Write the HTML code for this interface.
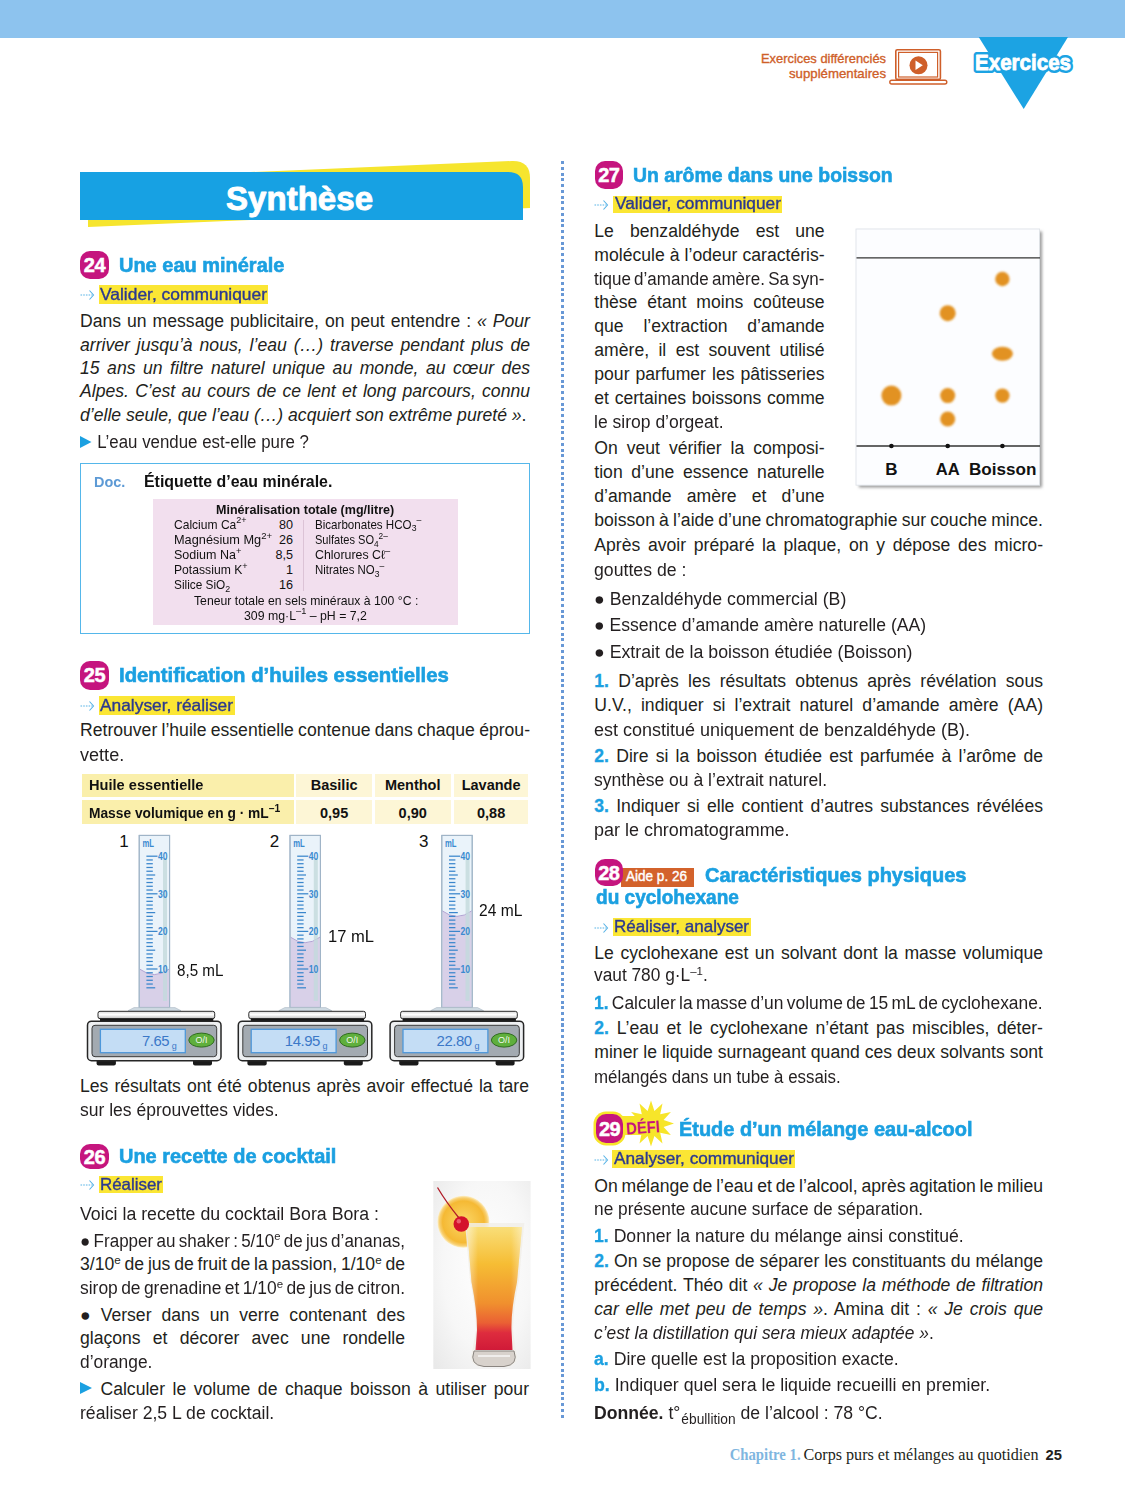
<!DOCTYPE html>
<html><head><meta charset="utf-8"><style>
html,body{margin:0;padding:0;background:#fff}
body{width:1125px;height:1500px;position:relative;overflow:hidden;font-family:"Liberation Sans",sans-serif}
.badge{position:absolute;background:#c5157e;border-radius:10px;color:#fff;font-weight:bold;font-size:20px;display:flex;align-items:center;justify-content:center;letter-spacing:-0.5px}
.badge span{position:relative;top:0.5px;-webkit-text-stroke:0.5px #fff}
.hl{position:absolute;background:#fbe634}
.arr{position:absolute}
svg{position:absolute}

.ln{position:absolute;white-space:pre;transform-origin:0 0;}
.ln i{font-style:italic}
.k-body{font-size:17.6px;line-height:17.6px;color:#231f20}
.k-head{font-size:20px;line-height:20px;font-weight:bold;color:#1ba0e1;-webkit-text-stroke:0.6px #1ba0e1}
.k-skill{font-size:16.5px;line-height:16.5px;color:#2b3990;-webkit-text-stroke:0.35px #2b3990}
.k-doc{font-size:15.5px;line-height:15.5px;font-weight:bold;color:#5d9ad5}
.k-doct{font-size:16.5px;line-height:16.5px;font-weight:bold;color:#111}
.k-tblb{font-size:12.6px;line-height:12.6px;font-weight:bold;color:#111}
.k-tbl{font-size:12.6px;line-height:12.6px;color:#111}
.k-th{font-size:14.5px;line-height:14.5px;font-weight:bold;color:#111}
.k-lab{font-size:17px;line-height:17px;color:#111}
.num{color:#1ba0e1;font-weight:bold;-webkit-text-stroke:0.3px #1ba0e1}
.sup{font-size:0.66em;position:relative;top:-0.55em}
.k-tbl .sup,.k-th .sup{font-size:0.75em}
.k-tbl .sub{font-size:0.75em}
.sub{font-size:0.62em;position:relative;top:0.3em}
.bl{display:inline-block;width:0;height:0;border-left:12.5px solid #1ba0e1;border-top:6px solid transparent;border-bottom:6px solid transparent;position:relative;top:-0.3px;margin-right:1px}
.dot{font-size:1em}
.sub2{font-size:0.78em;position:relative;top:0.38em;margin-left:1px}
.bm{display:inline-block;width:0;height:0}
</style></head><body>
<div style="position:absolute;left:0.0px;top:0.0px;width:1125.0px;height:37.6px;background:#8dc3ee"></div>
<svg style="left:0;top:0" width="1125" height="130" viewBox="0 0 1125 130">
<polygon points="978.7,37 1068,37 1023.7,109" fill="#1ca3e3"/>
<text x="1023" y="69.8" text-anchor="middle" font-size="22" font-weight="bold" fill="#1ca3e3" stroke="#1ca3e3" stroke-width="6" stroke-linejoin="round" textLength="96" lengthAdjust="spacingAndGlyphs">Exercices</text><text x="1023" y="69.8" text-anchor="middle" font-size="22" font-weight="bold" fill="#fff" stroke="#fff" stroke-width="0.8" stroke-linejoin="round" textLength="96" lengthAdjust="spacingAndGlyphs">Exercices</text>
<text x="886" y="62.8" text-anchor="end" font-size="13" fill="#cf5f2a" stroke="#cf5f2a" stroke-width="0.35" textLength="125" lengthAdjust="spacingAndGlyphs">Exercices différenciés</text>
<text x="886" y="77.8" text-anchor="end" font-size="13" fill="#cf5f2a" stroke="#cf5f2a" stroke-width="0.35" textLength="97" lengthAdjust="spacingAndGlyphs">supplémentaires</text>
<rect x="895.8" y="49.8" width="44.6" height="29.6" rx="1.5" fill="none" stroke="#cf5f2a" stroke-width="1.6"/>
<rect x="898.6" y="52.4" width="39" height="24.6" fill="none" stroke="#cf5f2a" stroke-width="1.2"/>
<rect x="889.8" y="80.2" width="57" height="3.8" rx="1.9" fill="none" stroke="#cf5f2a" stroke-width="1.4"/>
<circle cx="918.5" cy="65.3" r="9" fill="#cf5f2a"/>
<path d="M915.5 60.5 L922.8 65.3 L915.5 70.1 Z" fill="#fff"/>
</svg>
<svg style="left:0;top:140" width="560" height="100" viewBox="0 140 560 100">
<path d="M88 179 L512 161 Q530 160.5 530 178 L530 208 L88 227 Z" fill="#f6e52e"/>
<path d="M80 172 L508 172 Q523 172 523 187 L523 220 L80 220 Z" fill="#17a1e3"/>
<text x="299.5" y="209.6" text-anchor="middle" font-size="33" font-weight="bold" fill="#fff" stroke="#fff" stroke-width="0.9" stroke-linejoin="round" textLength="147" lengthAdjust="spacing">Synthèse</text>
</svg>
<div style="position:absolute;left:561.2px;top:161.0px;width:3.0px;height:1259.0px;background:repeating-linear-gradient(to bottom,#6898d6 0,#6898d6 3px,transparent 3px,transparent 5.75px)"></div>
<div class="badge" style="left:80.2px;top:251.0px;width:28.6px;height:27.8px;"><span>24</span></div>
<div class="badge" style="left:80.2px;top:661.0px;width:28.6px;height:28.8px;"><span>25</span></div>
<div class="badge" style="left:80.2px;top:1144.4px;width:28.6px;height:24.8px;"><span>26</span></div>
<div class="badge" style="left:594.7px;top:160.6px;width:28.3px;height:28.1px;"><span>27</span></div>
<svg class="arr" style="left:80.0px;top:288.5px" width="15" height="12" viewBox="0 0 15 12"><path d="M0.5 6 H12.5" stroke="#58b3e6" stroke-width="1.1" stroke-dasharray="1.6 1.1"/><path d="M9.5 1.5 L13.5 6 L9.5 10.5" fill="none" stroke="#58b3e6" stroke-width="1.1"/></svg>
<div class="hl" style="left:98.6px;top:285.0px;width:169.7px;height:18.6px"></div>
<svg class="arr" style="left:80.0px;top:699.5px" width="15" height="12" viewBox="0 0 15 12"><path d="M0.5 6 H12.5" stroke="#58b3e6" stroke-width="1.1" stroke-dasharray="1.6 1.1"/><path d="M9.5 1.5 L13.5 6 L9.5 10.5" fill="none" stroke="#58b3e6" stroke-width="1.1"/></svg>
<div class="hl" style="left:98.6px;top:696.0px;width:136.0px;height:18.7px"></div>
<svg class="arr" style="left:80.0px;top:1179.0px" width="15" height="12" viewBox="0 0 15 12"><path d="M0.5 6 H12.5" stroke="#58b3e6" stroke-width="1.1" stroke-dasharray="1.6 1.1"/><path d="M9.5 1.5 L13.5 6 L9.5 10.5" fill="none" stroke="#58b3e6" stroke-width="1.1"/></svg>
<div class="hl" style="left:99.0px;top:1176.4px;width:64.0px;height:16.9px"></div>
<svg class="arr" style="left:594.3px;top:199.3px" width="15" height="12" viewBox="0 0 15 12"><path d="M0.5 6 H12.5" stroke="#58b3e6" stroke-width="1.1" stroke-dasharray="1.6 1.1"/><path d="M9.5 1.5 L13.5 6 L9.5 10.5" fill="none" stroke="#58b3e6" stroke-width="1.1"/></svg>
<div class="hl" style="left:613.0px;top:195.8px;width:169.0px;height:17.6px"></div>
<svg class="arr" style="left:594.3px;top:921.6px" width="15" height="12" viewBox="0 0 15 12"><path d="M0.5 6 H12.5" stroke="#58b3e6" stroke-width="1.1" stroke-dasharray="1.6 1.1"/><path d="M9.5 1.5 L13.5 6 L9.5 10.5" fill="none" stroke="#58b3e6" stroke-width="1.1"/></svg>
<div class="hl" style="left:613.2px;top:918.3px;width:137.4px;height:17.7px"></div>
<svg class="arr" style="left:594.3px;top:1153.8px" width="15" height="12" viewBox="0 0 15 12"><path d="M0.5 6 H12.5" stroke="#58b3e6" stroke-width="1.1" stroke-dasharray="1.6 1.1"/><path d="M9.5 1.5 L13.5 6 L9.5 10.5" fill="none" stroke="#58b3e6" stroke-width="1.1"/></svg>
<div class="hl" style="left:612.0px;top:1150.3px;width:183.4px;height:18.0px"></div>
<div style="position:absolute;left:80.2px;top:462.8px;width:449.8px;height:171.7px;box-sizing:border-box;border:1.6px solid #55b7ea"></div>
<div style="position:absolute;left:152.8px;top:499.0px;width:305.2px;height:125.7px;background:#f2dfee"></div>
<div style="position:absolute;left:302.5px;top:520.0px;width:1.5px;height:71.0px;background:#dcc3d6"></div>
<div style="position:absolute;left:82.3px;top:773.8px;width:211.6px;height:23.4px;background:#faefab"></div>
<div style="position:absolute;left:82.3px;top:800.3px;width:211.6px;height:23.7px;background:#faefab"></div>
<div style="position:absolute;left:296.2px;top:773.8px;width:75.8px;height:23.4px;background:#fdf6d6"></div>
<div style="position:absolute;left:296.2px;top:800.3px;width:75.8px;height:23.7px;background:#fdf6d6"></div>
<div style="position:absolute;left:374.8px;top:773.8px;width:75.8px;height:23.4px;background:#fdf6d6"></div>
<div style="position:absolute;left:374.8px;top:800.3px;width:75.8px;height:23.7px;background:#fdf6d6"></div>
<div style="position:absolute;left:453.8px;top:773.8px;width:74.6px;height:23.4px;background:#fdf6d6"></div>
<div style="position:absolute;left:453.8px;top:800.3px;width:74.6px;height:23.7px;background:#fdf6d6"></div>
<svg style="position:absolute;left:0;top:0" width="1125" height="1500" viewBox="0 0 1125 1500">
<defs><linearGradient id="plate" x1="0" y1="0" x2="0" y2="1"><stop offset="0" stop-color="#d8d8d8"/><stop offset="0.45" stop-color="#ffffff"/><stop offset="1" stop-color="#bdbdbd"/></linearGradient></defs>
<rect x="139.2" y="835.4" width="30.4" height="172" fill="#eaf3fa" stroke="#9fb4c7" stroke-width="1"/>
<path d="M139.7 969.1 Q154.4 980.1 169.1 969.1 L169.1 1007 L139.7 1007 Z" fill="#d8d0e8"/>
<path d="M139.7 969.1 Q154.4 980.1 169.1 969.1" fill="none" stroke="#b3a3d3" stroke-width="1"/>
<rect x="163.0" y="858" width="4" height="143" fill="#c3d9dc" opacity="0.8"/>
<line x1="146.4" y1="987.80" x2="155.2" y2="987.80" stroke="#3a86cc" stroke-width="1.25"/>
<line x1="146.4" y1="984.04" x2="152.8" y2="984.04" stroke="#3a86cc" stroke-width="1.25"/>
<line x1="146.4" y1="980.28" x2="152.8" y2="980.28" stroke="#3a86cc" stroke-width="1.25"/>
<line x1="146.4" y1="976.52" x2="152.8" y2="976.52" stroke="#3a86cc" stroke-width="1.25"/>
<line x1="146.4" y1="972.76" x2="152.8" y2="972.76" stroke="#3a86cc" stroke-width="1.25"/>
<line x1="146.4" y1="969.00" x2="157.5" y2="969.00" stroke="#3a86cc" stroke-width="1.25"/>
<text x="158.0" y="972.80" font-size="10.5" font-weight="bold" fill="#3a8ad0" textLength="9.5" lengthAdjust="spacingAndGlyphs">10</text>
<line x1="146.4" y1="965.24" x2="152.8" y2="965.24" stroke="#3a86cc" stroke-width="1.25"/>
<line x1="146.4" y1="961.48" x2="152.8" y2="961.48" stroke="#3a86cc" stroke-width="1.25"/>
<line x1="146.4" y1="957.72" x2="152.8" y2="957.72" stroke="#3a86cc" stroke-width="1.25"/>
<line x1="146.4" y1="953.96" x2="152.8" y2="953.96" stroke="#3a86cc" stroke-width="1.25"/>
<line x1="146.4" y1="950.20" x2="155.2" y2="950.20" stroke="#3a86cc" stroke-width="1.25"/>
<line x1="146.4" y1="946.44" x2="152.8" y2="946.44" stroke="#3a86cc" stroke-width="1.25"/>
<line x1="146.4" y1="942.68" x2="152.8" y2="942.68" stroke="#3a86cc" stroke-width="1.25"/>
<line x1="146.4" y1="938.92" x2="152.8" y2="938.92" stroke="#3a86cc" stroke-width="1.25"/>
<line x1="146.4" y1="935.16" x2="152.8" y2="935.16" stroke="#3a86cc" stroke-width="1.25"/>
<line x1="146.4" y1="931.40" x2="157.5" y2="931.40" stroke="#3a86cc" stroke-width="1.25"/>
<text x="158.0" y="935.20" font-size="10.5" font-weight="bold" fill="#3a8ad0" textLength="9.5" lengthAdjust="spacingAndGlyphs">20</text>
<line x1="146.4" y1="927.64" x2="152.8" y2="927.64" stroke="#3a86cc" stroke-width="1.25"/>
<line x1="146.4" y1="923.88" x2="152.8" y2="923.88" stroke="#3a86cc" stroke-width="1.25"/>
<line x1="146.4" y1="920.12" x2="152.8" y2="920.12" stroke="#3a86cc" stroke-width="1.25"/>
<line x1="146.4" y1="916.36" x2="152.8" y2="916.36" stroke="#3a86cc" stroke-width="1.25"/>
<line x1="146.4" y1="912.60" x2="155.2" y2="912.60" stroke="#3a86cc" stroke-width="1.25"/>
<line x1="146.4" y1="908.84" x2="152.8" y2="908.84" stroke="#3a86cc" stroke-width="1.25"/>
<line x1="146.4" y1="905.08" x2="152.8" y2="905.08" stroke="#3a86cc" stroke-width="1.25"/>
<line x1="146.4" y1="901.32" x2="152.8" y2="901.32" stroke="#3a86cc" stroke-width="1.25"/>
<line x1="146.4" y1="897.56" x2="152.8" y2="897.56" stroke="#3a86cc" stroke-width="1.25"/>
<line x1="146.4" y1="893.80" x2="157.5" y2="893.80" stroke="#3a86cc" stroke-width="1.25"/>
<text x="158.0" y="897.60" font-size="10.5" font-weight="bold" fill="#3a8ad0" textLength="9.5" lengthAdjust="spacingAndGlyphs">30</text>
<line x1="146.4" y1="890.04" x2="152.8" y2="890.04" stroke="#3a86cc" stroke-width="1.25"/>
<line x1="146.4" y1="886.28" x2="152.8" y2="886.28" stroke="#3a86cc" stroke-width="1.25"/>
<line x1="146.4" y1="882.52" x2="152.8" y2="882.52" stroke="#3a86cc" stroke-width="1.25"/>
<line x1="146.4" y1="878.76" x2="152.8" y2="878.76" stroke="#3a86cc" stroke-width="1.25"/>
<line x1="146.4" y1="875.00" x2="155.2" y2="875.00" stroke="#3a86cc" stroke-width="1.25"/>
<line x1="146.4" y1="871.24" x2="152.8" y2="871.24" stroke="#3a86cc" stroke-width="1.25"/>
<line x1="146.4" y1="867.48" x2="152.8" y2="867.48" stroke="#3a86cc" stroke-width="1.25"/>
<line x1="146.4" y1="863.72" x2="152.8" y2="863.72" stroke="#3a86cc" stroke-width="1.25"/>
<line x1="146.4" y1="859.96" x2="152.8" y2="859.96" stroke="#3a86cc" stroke-width="1.25"/>
<line x1="146.4" y1="856.20" x2="157.5" y2="856.20" stroke="#3a86cc" stroke-width="1.25"/>
<text x="158.0" y="860.00" font-size="10.5" font-weight="bold" fill="#3a8ad0" textLength="9.5" lengthAdjust="spacingAndGlyphs">40</text>
<text x="142.4" y="847" font-size="10.5" font-weight="bold" fill="#3a8ad0" textLength="11.5" lengthAdjust="spacingAndGlyphs">mL</text>
<rect x="139.2" y="835.4" width="30.4" height="172" fill="none" stroke="#9fb4c7" stroke-width="1"/>
<path d="M128.0 1010.7 L134.0 1007.6 L175.0 1007.6 L181.0 1010.7 Z" fill="#cfdae2" stroke="#a9b7c2" stroke-width="0.6"/>
<rect x="98.0" y="1011.3" width="116.7" height="7.4" rx="2" fill="url(#plate)" stroke="#2a2a2a" stroke-width="1"/>
<rect x="100.0" y="1018.5" width="113.3" height="3" fill="#151515"/>
<rect x="96.6" y="1059" width="19.3" height="6.5" rx="2" fill="#1a1a1a"/>
<rect x="193.0" y="1059" width="19" height="6.5" rx="2" fill="#1a1a1a"/>
<rect x="87.5" y="1021.2" width="133.5" height="39.5" rx="4" fill="#eef0f2" stroke="#262626" stroke-width="1.5"/>
<rect x="92.0" y="1025.3" width="124.7" height="31.4" rx="3" fill="#a3aab1" stroke="#3a3a3a" stroke-width="1"/>
<rect x="100.4" y="1029.3" width="84.9" height="23.4" fill="#c4ddf5" stroke="#4d97da" stroke-width="1.3"/>
<text x="169.0" y="1045.8" font-size="15.5" fill="#3b78c8" text-anchor="end" textLength="27" lengthAdjust="spacingAndGlyphs" style="letter-spacing:-0.5px">7.65</text>
<text x="171.8" y="1048.5" font-size="9" fill="#3b78c8">g</text>
<ellipse cx="201.5" cy="1040.1" rx="12.7" ry="7" fill="#5faf3c" stroke="#2f6b1f" stroke-width="1"/>
<text x="201.5" y="1043.2" font-size="8.5" fill="#f2f8ee" text-anchor="middle" textLength="12" lengthAdjust="spacingAndGlyphs">O/I</text>
<rect x="290.0" y="835.4" width="30.4" height="172" fill="#eaf3fa" stroke="#9fb4c7" stroke-width="1"/>
<path d="M290.5 937.2 Q305.2 948.2 319.9 937.2 L319.9 1007 L290.5 1007 Z" fill="#d8d0e8"/>
<path d="M290.5 937.2 Q305.2 948.2 319.9 937.2" fill="none" stroke="#b3a3d3" stroke-width="1"/>
<rect x="313.8" y="858" width="4" height="143" fill="#c3d9dc" opacity="0.8"/>
<line x1="297.2" y1="987.80" x2="306.0" y2="987.80" stroke="#3a86cc" stroke-width="1.25"/>
<line x1="297.2" y1="984.04" x2="303.6" y2="984.04" stroke="#3a86cc" stroke-width="1.25"/>
<line x1="297.2" y1="980.28" x2="303.6" y2="980.28" stroke="#3a86cc" stroke-width="1.25"/>
<line x1="297.2" y1="976.52" x2="303.6" y2="976.52" stroke="#3a86cc" stroke-width="1.25"/>
<line x1="297.2" y1="972.76" x2="303.6" y2="972.76" stroke="#3a86cc" stroke-width="1.25"/>
<line x1="297.2" y1="969.00" x2="308.3" y2="969.00" stroke="#3a86cc" stroke-width="1.25"/>
<text x="308.8" y="972.80" font-size="10.5" font-weight="bold" fill="#3a8ad0" textLength="9.5" lengthAdjust="spacingAndGlyphs">10</text>
<line x1="297.2" y1="965.24" x2="303.6" y2="965.24" stroke="#3a86cc" stroke-width="1.25"/>
<line x1="297.2" y1="961.48" x2="303.6" y2="961.48" stroke="#3a86cc" stroke-width="1.25"/>
<line x1="297.2" y1="957.72" x2="303.6" y2="957.72" stroke="#3a86cc" stroke-width="1.25"/>
<line x1="297.2" y1="953.96" x2="303.6" y2="953.96" stroke="#3a86cc" stroke-width="1.25"/>
<line x1="297.2" y1="950.20" x2="306.0" y2="950.20" stroke="#3a86cc" stroke-width="1.25"/>
<line x1="297.2" y1="946.44" x2="303.6" y2="946.44" stroke="#3a86cc" stroke-width="1.25"/>
<line x1="297.2" y1="942.68" x2="303.6" y2="942.68" stroke="#3a86cc" stroke-width="1.25"/>
<line x1="297.2" y1="938.92" x2="303.6" y2="938.92" stroke="#3a86cc" stroke-width="1.25"/>
<line x1="297.2" y1="935.16" x2="303.6" y2="935.16" stroke="#3a86cc" stroke-width="1.25"/>
<line x1="297.2" y1="931.40" x2="308.3" y2="931.40" stroke="#3a86cc" stroke-width="1.25"/>
<text x="308.8" y="935.20" font-size="10.5" font-weight="bold" fill="#3a8ad0" textLength="9.5" lengthAdjust="spacingAndGlyphs">20</text>
<line x1="297.2" y1="927.64" x2="303.6" y2="927.64" stroke="#3a86cc" stroke-width="1.25"/>
<line x1="297.2" y1="923.88" x2="303.6" y2="923.88" stroke="#3a86cc" stroke-width="1.25"/>
<line x1="297.2" y1="920.12" x2="303.6" y2="920.12" stroke="#3a86cc" stroke-width="1.25"/>
<line x1="297.2" y1="916.36" x2="303.6" y2="916.36" stroke="#3a86cc" stroke-width="1.25"/>
<line x1="297.2" y1="912.60" x2="306.0" y2="912.60" stroke="#3a86cc" stroke-width="1.25"/>
<line x1="297.2" y1="908.84" x2="303.6" y2="908.84" stroke="#3a86cc" stroke-width="1.25"/>
<line x1="297.2" y1="905.08" x2="303.6" y2="905.08" stroke="#3a86cc" stroke-width="1.25"/>
<line x1="297.2" y1="901.32" x2="303.6" y2="901.32" stroke="#3a86cc" stroke-width="1.25"/>
<line x1="297.2" y1="897.56" x2="303.6" y2="897.56" stroke="#3a86cc" stroke-width="1.25"/>
<line x1="297.2" y1="893.80" x2="308.3" y2="893.80" stroke="#3a86cc" stroke-width="1.25"/>
<text x="308.8" y="897.60" font-size="10.5" font-weight="bold" fill="#3a8ad0" textLength="9.5" lengthAdjust="spacingAndGlyphs">30</text>
<line x1="297.2" y1="890.04" x2="303.6" y2="890.04" stroke="#3a86cc" stroke-width="1.25"/>
<line x1="297.2" y1="886.28" x2="303.6" y2="886.28" stroke="#3a86cc" stroke-width="1.25"/>
<line x1="297.2" y1="882.52" x2="303.6" y2="882.52" stroke="#3a86cc" stroke-width="1.25"/>
<line x1="297.2" y1="878.76" x2="303.6" y2="878.76" stroke="#3a86cc" stroke-width="1.25"/>
<line x1="297.2" y1="875.00" x2="306.0" y2="875.00" stroke="#3a86cc" stroke-width="1.25"/>
<line x1="297.2" y1="871.24" x2="303.6" y2="871.24" stroke="#3a86cc" stroke-width="1.25"/>
<line x1="297.2" y1="867.48" x2="303.6" y2="867.48" stroke="#3a86cc" stroke-width="1.25"/>
<line x1="297.2" y1="863.72" x2="303.6" y2="863.72" stroke="#3a86cc" stroke-width="1.25"/>
<line x1="297.2" y1="859.96" x2="303.6" y2="859.96" stroke="#3a86cc" stroke-width="1.25"/>
<line x1="297.2" y1="856.20" x2="308.3" y2="856.20" stroke="#3a86cc" stroke-width="1.25"/>
<text x="308.8" y="860.00" font-size="10.5" font-weight="bold" fill="#3a8ad0" textLength="9.5" lengthAdjust="spacingAndGlyphs">40</text>
<text x="293.2" y="847" font-size="10.5" font-weight="bold" fill="#3a8ad0" textLength="11.5" lengthAdjust="spacingAndGlyphs">mL</text>
<rect x="290.0" y="835.4" width="30.4" height="172" fill="none" stroke="#9fb4c7" stroke-width="1"/>
<path d="M278.8 1010.7 L284.8 1007.6 L325.8 1007.6 L331.8 1010.7 Z" fill="#cfdae2" stroke="#a9b7c2" stroke-width="0.6"/>
<rect x="248.8" y="1011.3" width="116.7" height="7.4" rx="2" fill="url(#plate)" stroke="#2a2a2a" stroke-width="1"/>
<rect x="250.8" y="1018.5" width="113.3" height="3" fill="#151515"/>
<rect x="247.4" y="1059" width="19.3" height="6.5" rx="2" fill="#1a1a1a"/>
<rect x="343.8" y="1059" width="19" height="6.5" rx="2" fill="#1a1a1a"/>
<rect x="238.3" y="1021.2" width="133.5" height="39.5" rx="4" fill="#eef0f2" stroke="#262626" stroke-width="1.5"/>
<rect x="242.8" y="1025.3" width="124.7" height="31.4" rx="3" fill="#a3aab1" stroke="#3a3a3a" stroke-width="1"/>
<rect x="251.2" y="1029.3" width="84.9" height="23.4" fill="#c4ddf5" stroke="#4d97da" stroke-width="1.3"/>
<text x="319.8" y="1045.8" font-size="15.5" fill="#3b78c8" text-anchor="end" textLength="35" lengthAdjust="spacingAndGlyphs" style="letter-spacing:-0.5px">14.95</text>
<text x="322.6" y="1048.5" font-size="9" fill="#3b78c8">g</text>
<ellipse cx="352.3" cy="1040.1" rx="12.7" ry="7" fill="#5faf3c" stroke="#2f6b1f" stroke-width="1"/>
<text x="352.3" y="1043.2" font-size="8.5" fill="#f2f8ee" text-anchor="middle" textLength="12" lengthAdjust="spacingAndGlyphs">O/I</text>
<rect x="441.8" y="835.4" width="30.4" height="172" fill="#eaf3fa" stroke="#9fb4c7" stroke-width="1"/>
<path d="M442.3 910.9 Q457.0 921.9 471.7 910.9 L471.7 1007 L442.3 1007 Z" fill="#d8d0e8"/>
<path d="M442.3 910.9 Q457.0 921.9 471.7 910.9" fill="none" stroke="#b3a3d3" stroke-width="1"/>
<rect x="465.6" y="858" width="4" height="143" fill="#c3d9dc" opacity="0.8"/>
<line x1="449.0" y1="987.80" x2="457.8" y2="987.80" stroke="#3a86cc" stroke-width="1.25"/>
<line x1="449.0" y1="984.04" x2="455.4" y2="984.04" stroke="#3a86cc" stroke-width="1.25"/>
<line x1="449.0" y1="980.28" x2="455.4" y2="980.28" stroke="#3a86cc" stroke-width="1.25"/>
<line x1="449.0" y1="976.52" x2="455.4" y2="976.52" stroke="#3a86cc" stroke-width="1.25"/>
<line x1="449.0" y1="972.76" x2="455.4" y2="972.76" stroke="#3a86cc" stroke-width="1.25"/>
<line x1="449.0" y1="969.00" x2="460.1" y2="969.00" stroke="#3a86cc" stroke-width="1.25"/>
<text x="460.6" y="972.80" font-size="10.5" font-weight="bold" fill="#3a8ad0" textLength="9.5" lengthAdjust="spacingAndGlyphs">10</text>
<line x1="449.0" y1="965.24" x2="455.4" y2="965.24" stroke="#3a86cc" stroke-width="1.25"/>
<line x1="449.0" y1="961.48" x2="455.4" y2="961.48" stroke="#3a86cc" stroke-width="1.25"/>
<line x1="449.0" y1="957.72" x2="455.4" y2="957.72" stroke="#3a86cc" stroke-width="1.25"/>
<line x1="449.0" y1="953.96" x2="455.4" y2="953.96" stroke="#3a86cc" stroke-width="1.25"/>
<line x1="449.0" y1="950.20" x2="457.8" y2="950.20" stroke="#3a86cc" stroke-width="1.25"/>
<line x1="449.0" y1="946.44" x2="455.4" y2="946.44" stroke="#3a86cc" stroke-width="1.25"/>
<line x1="449.0" y1="942.68" x2="455.4" y2="942.68" stroke="#3a86cc" stroke-width="1.25"/>
<line x1="449.0" y1="938.92" x2="455.4" y2="938.92" stroke="#3a86cc" stroke-width="1.25"/>
<line x1="449.0" y1="935.16" x2="455.4" y2="935.16" stroke="#3a86cc" stroke-width="1.25"/>
<line x1="449.0" y1="931.40" x2="460.1" y2="931.40" stroke="#3a86cc" stroke-width="1.25"/>
<text x="460.6" y="935.20" font-size="10.5" font-weight="bold" fill="#3a8ad0" textLength="9.5" lengthAdjust="spacingAndGlyphs">20</text>
<line x1="449.0" y1="927.64" x2="455.4" y2="927.64" stroke="#3a86cc" stroke-width="1.25"/>
<line x1="449.0" y1="923.88" x2="455.4" y2="923.88" stroke="#3a86cc" stroke-width="1.25"/>
<line x1="449.0" y1="920.12" x2="455.4" y2="920.12" stroke="#3a86cc" stroke-width="1.25"/>
<line x1="449.0" y1="916.36" x2="455.4" y2="916.36" stroke="#3a86cc" stroke-width="1.25"/>
<line x1="449.0" y1="912.60" x2="457.8" y2="912.60" stroke="#3a86cc" stroke-width="1.25"/>
<line x1="449.0" y1="908.84" x2="455.4" y2="908.84" stroke="#3a86cc" stroke-width="1.25"/>
<line x1="449.0" y1="905.08" x2="455.4" y2="905.08" stroke="#3a86cc" stroke-width="1.25"/>
<line x1="449.0" y1="901.32" x2="455.4" y2="901.32" stroke="#3a86cc" stroke-width="1.25"/>
<line x1="449.0" y1="897.56" x2="455.4" y2="897.56" stroke="#3a86cc" stroke-width="1.25"/>
<line x1="449.0" y1="893.80" x2="460.1" y2="893.80" stroke="#3a86cc" stroke-width="1.25"/>
<text x="460.6" y="897.60" font-size="10.5" font-weight="bold" fill="#3a8ad0" textLength="9.5" lengthAdjust="spacingAndGlyphs">30</text>
<line x1="449.0" y1="890.04" x2="455.4" y2="890.04" stroke="#3a86cc" stroke-width="1.25"/>
<line x1="449.0" y1="886.28" x2="455.4" y2="886.28" stroke="#3a86cc" stroke-width="1.25"/>
<line x1="449.0" y1="882.52" x2="455.4" y2="882.52" stroke="#3a86cc" stroke-width="1.25"/>
<line x1="449.0" y1="878.76" x2="455.4" y2="878.76" stroke="#3a86cc" stroke-width="1.25"/>
<line x1="449.0" y1="875.00" x2="457.8" y2="875.00" stroke="#3a86cc" stroke-width="1.25"/>
<line x1="449.0" y1="871.24" x2="455.4" y2="871.24" stroke="#3a86cc" stroke-width="1.25"/>
<line x1="449.0" y1="867.48" x2="455.4" y2="867.48" stroke="#3a86cc" stroke-width="1.25"/>
<line x1="449.0" y1="863.72" x2="455.4" y2="863.72" stroke="#3a86cc" stroke-width="1.25"/>
<line x1="449.0" y1="859.96" x2="455.4" y2="859.96" stroke="#3a86cc" stroke-width="1.25"/>
<line x1="449.0" y1="856.20" x2="460.1" y2="856.20" stroke="#3a86cc" stroke-width="1.25"/>
<text x="460.6" y="860.00" font-size="10.5" font-weight="bold" fill="#3a8ad0" textLength="9.5" lengthAdjust="spacingAndGlyphs">40</text>
<text x="445.0" y="847" font-size="10.5" font-weight="bold" fill="#3a8ad0" textLength="11.5" lengthAdjust="spacingAndGlyphs">mL</text>
<rect x="441.8" y="835.4" width="30.4" height="172" fill="none" stroke="#9fb4c7" stroke-width="1"/>
<path d="M430.6 1010.7 L436.6 1007.6 L477.6 1007.6 L483.6 1010.7 Z" fill="#cfdae2" stroke="#a9b7c2" stroke-width="0.6"/>
<rect x="400.6" y="1011.3" width="116.7" height="7.4" rx="2" fill="url(#plate)" stroke="#2a2a2a" stroke-width="1"/>
<rect x="402.6" y="1018.5" width="113.3" height="3" fill="#151515"/>
<rect x="399.2" y="1059" width="19.3" height="6.5" rx="2" fill="#1a1a1a"/>
<rect x="495.6" y="1059" width="19" height="6.5" rx="2" fill="#1a1a1a"/>
<rect x="390.1" y="1021.2" width="133.5" height="39.5" rx="4" fill="#eef0f2" stroke="#262626" stroke-width="1.5"/>
<rect x="394.6" y="1025.3" width="124.7" height="31.4" rx="3" fill="#a3aab1" stroke="#3a3a3a" stroke-width="1"/>
<rect x="403.0" y="1029.3" width="84.9" height="23.4" fill="#c4ddf5" stroke="#4d97da" stroke-width="1.3"/>
<text x="471.6" y="1045.8" font-size="15.5" fill="#3b78c8" text-anchor="end" textLength="35" lengthAdjust="spacingAndGlyphs" style="letter-spacing:-0.5px">22.80</text>
<text x="474.4" y="1048.5" font-size="9" fill="#3b78c8">g</text>
<ellipse cx="504.1" cy="1040.1" rx="12.7" ry="7" fill="#5faf3c" stroke="#2f6b1f" stroke-width="1"/>
<text x="504.1" y="1043.2" font-size="8.5" fill="#f2f8ee" text-anchor="middle" textLength="12" lengthAdjust="spacingAndGlyphs">O/I</text>
</svg>
<div style="position:absolute;left:621.3px;top:868.2px;width:72.9px;height:18.5px;background:#d3622b"></div>
<div class="badge" style="left:595.0px;top:858.8px;width:27.7px;height:27.5px;"><span>28</span></div>
<svg style="left:600;top:860" width="100" height="30" viewBox="600 860 100 30"><text x="626" y="881.3" font-size="14" fill="#fff" stroke="#fff" stroke-width="0.4" textLength="61" lengthAdjust="spacingAndGlyphs">Aide p. 26</text></svg>
<svg style="left:580;top:1090" width="110" height="70" viewBox="580 1090 110 70">
<polygon points="651.0,1100.5 654.4,1110.9 662.5,1103.6 660.2,1114.3 670.9,1112.0 663.6,1120.1 674.0,1123.5 663.6,1126.9 670.9,1135.0 660.2,1132.7 662.5,1143.4 654.4,1136.1 651.0,1146.5 647.6,1136.1 639.5,1143.4 641.8,1132.7 631.1,1135.0 638.4,1126.9 628.0,1123.5 638.4,1120.1 631.1,1112.0 641.8,1114.3 639.5,1103.6 647.6,1110.9" fill="#f7e52a"/>
<rect x="612" y="1116" width="38" height="19" fill="#f7e52a"/>
<text x="626" y="1133.4" font-size="17" font-weight="bold" fill="#c5157e" textLength="33.7" lengthAdjust="spacingAndGlyphs" transform="rotate(-4 643 1127)">DÉFI</text>
</svg>
<div class="badge" style="left:595.7px;top:1114.2px;width:27.7px;height:29.2px;box-shadow:0 0 0 2.5px #f7e52a;"><span>29</span></div>
<svg style="left:430;top:1178" width="104" height="194" viewBox="430 1178 104 194">
<defs>
<radialGradient id="bgph" cx="0.55" cy="0.45" r="0.75"><stop offset="0" stop-color="#ffffff"/><stop offset="0.6" stop-color="#f7f7f7"/><stop offset="1" stop-color="#e9e9e9"/></radialGradient>
<linearGradient id="juice" x1="0" y1="0" x2="0" y2="1"><stop offset="0" stop-color="#f9de78"/><stop offset="0.3" stop-color="#f6bd34"/><stop offset="0.62" stop-color="#f0902e"/><stop offset="0.78" stop-color="#ea6034"/><stop offset="0.86" stop-color="#de2c3e"/><stop offset="1" stop-color="#d01a38"/></linearGradient>
<radialGradient id="orange" cx="0.5" cy="0.5" r="0.5"><stop offset="0" stop-color="#fbd86a"/><stop offset="0.8" stop-color="#f5b934"/><stop offset="0.92" stop-color="#f8cf70"/><stop offset="1" stop-color="#fdf0c8"/></radialGradient>
<linearGradient id="gl" x1="0" y1="0" x2="1" y2="0"><stop offset="0" stop-color="#ffffff" stop-opacity="0.5"/><stop offset="0.2" stop-color="#ffffff" stop-opacity="0"/><stop offset="0.8" stop-color="#ffffff" stop-opacity="0"/><stop offset="1" stop-color="#ffffff" stop-opacity="0.4"/></linearGradient>
</defs>
<rect x="433.3" y="1181" width="97.3" height="188" fill="url(#bgph)"/>
<circle cx="463.4" cy="1221.8" r="26" fill="url(#orange)"/>
<path d="M437.5 1187.5 Q446 1202 459 1218" stroke="#b01c28" stroke-width="1.3" fill="none"/>
<path d="M465 1223 L524.3 1223 L519 1280 Q513 1310 513 1330 L516 1352 Q520 1366 505 1367 L482 1367 Q468 1366 472 1352 L476 1330 Q476 1310 470 1280 Z" fill="#f1eee9" opacity="0.85"/>
<path d="M467 1227 L522 1227 L517 1282 Q511 1310 511.5 1330 L512.5 1350 L475.5 1350 L477 1330 Q477 1310 471.5 1282 Z" fill="url(#juice)"/>
<path d="M467 1227 L522 1227 L517 1282 Q511 1310 511.5 1330 L512.5 1350 L475.5 1350 L477 1330 Q477 1310 471.5 1282 Z" fill="url(#gl)"/>
<path d="M474 1351 L514 1351 Q519 1365 504 1366.5 L484 1366.5 Q469 1365 474 1351 Z" fill="#d8d2cc" stroke="#8a8580" stroke-width="1"/>
<path d="M478 1356 L510 1356" stroke="#ffffff" stroke-width="1.5" opacity="0.8"/>
<circle cx="461.3" cy="1224" r="7.8" fill="#d4122b"/>
<circle cx="458.8" cy="1221.3" r="2.2" fill="#f07080" opacity="0.8"/>
</svg>
<svg style="left:850;top:222" width="200" height="272" viewBox="850 222 200 272">
<defs><filter id="blur" x="-50%" y="-50%" width="200%" height="200%"><feGaussianBlur stdDeviation="1.1"/></filter>
<filter id="sh" x="-10%" y="-10%" width="120%" height="120%"><feGaussianBlur stdDeviation="1.5"/></filter></defs>
<rect x="859" y="231.5" width="183" height="256" fill="#9a9a9a" filter="url(#sh)"/>
<rect x="856" y="229" width="183.6" height="256.2" fill="#fcfdff" stroke="#dfe3e8" stroke-width="0.9"/>
<line x1="856.5" y1="257.8" x2="1040" y2="257.8" stroke="#333" stroke-width="1.3"/>
<line x1="856.5" y1="446" x2="1040" y2="446" stroke="#333" stroke-width="1.3"/>
<ellipse cx="891.4" cy="395.6" rx="10.0" ry="10.0" fill="#e29220" filter="url(#blur)"/><ellipse cx="947.7" cy="313.2" rx="8.0" ry="8.0" fill="#e29220" filter="url(#blur)"/><ellipse cx="947.7" cy="395.6" rx="7.5" ry="7.5" fill="#e29220" filter="url(#blur)"/><ellipse cx="947.7" cy="419.0" rx="7.5" ry="7.5" fill="#e29220" filter="url(#blur)"/><ellipse cx="1002.4" cy="279.0" rx="7.2" ry="7.2" fill="#e29220" filter="url(#blur)"/><ellipse cx="1002.4" cy="353.8" rx="10.5" ry="7.0" fill="#e29220" filter="url(#blur)"/><ellipse cx="1002.4" cy="395.6" rx="7.2" ry="7.2" fill="#e29220" filter="url(#blur)"/>
<circle cx="891.4" cy="446" r="2.3" fill="#111"/><circle cx="947.7" cy="446" r="2.3" fill="#111"/><circle cx="1002.4" cy="446" r="2.3" fill="#111"/>
<text x="891.4" y="474.5" text-anchor="middle" font-size="17" font-weight="bold" fill="#111">B</text>
<text x="947.7" y="474.5" text-anchor="middle" font-size="17" font-weight="bold" fill="#111" textLength="24" lengthAdjust="spacingAndGlyphs">AA</text>
<text x="1002.7" y="474.5" text-anchor="middle" font-size="17" font-weight="bold" fill="#111" textLength="67.5" lengthAdjust="spacingAndGlyphs">Boisson</text>
</svg>
<svg style="left:700;top:1440" width="400" height="30" viewBox="700 1440 400 30">
<text x="729.7" y="1459.7" font-family="Liberation Serif" font-size="16.5" font-weight="bold" fill="#7fb6e0" textLength="70.9" lengthAdjust="spacingAndGlyphs">Chapitre 1.</text>
<text x="803.5" y="1459.7" font-family="Liberation Serif" font-size="17" fill="#231f20" textLength="235" lengthAdjust="spacingAndGlyphs">Corps purs et mélanges au quotidien</text>
<text x="1045.6" y="1459.7" font-size="15" font-weight="bold" fill="#231f20" textLength="16.4" lengthAdjust="spacingAndGlyphs">25</text>
</svg>
<div class="ln k-head" id="l0" style="left:119.00px;top:255.00px;transform:scaleX(0.9986);"><span class="bm"></span><span class="w">Une eau minérale</span></div>
<div class="ln k-skill" id="l1" style="left:100.00px;top:285.70px;transform:scaleX(1.0546);"><span class="bm"></span><span class="w">Valider, communiquer</span></div>
<div class="ln k-body" id="l2" style="left:80.00px;top:313.30px;word-spacing:1.095px;"><span class="bm"></span><span class="w">Dans un message publicitaire, on peut entendre : <i>« Pour</i></span></div>
<div class="ln k-body" id="l3" style="left:80.00px;top:336.80px;word-spacing:2.096px;"><span class="bm"></span><span class="w"><i>arriver jusqu’à nous, l’eau (…) traverse pendant plus de</i></span></div>
<div class="ln k-body" id="l4" style="left:80.00px;top:359.70px;word-spacing:2.650px;"><span class="bm"></span><span class="w"><i>15 ans un filtre naturel unique au monde, au cœur des</i></span></div>
<div class="ln k-body" id="l5" style="left:80.00px;top:383.20px;word-spacing:1.381px;"><span class="bm"></span><span class="w"><i>Alpes. C’est au cours de ce lent et long parcours, connu</i></span></div>
<div class="ln k-body" id="l6" style="left:80.00px;top:406.70px;word-spacing:-0.049px;"><span class="bm"></span><span class="w"><i>d’elle seule, que l’eau (…) acquiert son extrême pureté »</i>.</span></div>
<div class="ln k-body" id="l7" style="left:80.00px;top:434.30px;transform:scaleX(0.9583);"><span class="bm"></span><span class="w"><span class="bl"></span> L’eau vendue est-elle pure ?</span></div>
<div class="ln k-doc" id="l8" style="left:93.50px;top:473.70px;transform:scaleX(0.9317);"><span class="bm"></span><span class="w">Doc.</span></div>
<div class="ln k-doct" id="l9" style="left:143.60px;top:472.70px;transform:scaleX(0.9646);"><span class="bm"></span><span class="w">Étiquette d’eau minérale.</span></div>
<div class="ln k-tblb" id="l10" style="left:216.20px;top:503.90px;transform:scaleX(0.9947);"><span class="bm"></span><span class="w">Minéralisation totale (mg/litre)</span></div>
<div class="ln k-tbl" id="l11" style="left:174.30px;top:518.60px;transform:scaleX(0.9570);"><span class="bm"></span><span class="w">Calcium Ca<span class="sup">2+</span></span></div>
<div class="ln k-tbl" id="l12" style="left:278.88px;top:518.60px;"><span class="bm"></span><span class="w">80</span></div>
<div class="ln k-tbl" id="l13" style="left:314.70px;top:518.60px;transform:scaleX(0.9203);"><span class="bm"></span><span class="w">Bicarbonates HCO<span class="sub">3</span><span class="sup">–</span></span></div>
<div class="ln k-tbl" id="l14" style="left:174.30px;top:533.90px;transform:scaleX(1.0128);"><span class="bm"></span><span class="w">Magnésium Mg<span class="sup">2+</span></span></div>
<div class="ln k-tbl" id="l15" style="left:278.88px;top:533.90px;"><span class="bm"></span><span class="w">26</span></div>
<div class="ln k-tbl" id="l16" style="left:314.70px;top:533.90px;transform:scaleX(0.8776);"><span class="bm"></span><span class="w">Sulfates SO<span class="sub">4</span><span class="sup">2–</span></span></div>
<div class="ln k-tbl" id="l17" style="left:174.30px;top:548.90px;transform:scaleX(0.9937);"><span class="bm"></span><span class="w">Sodium Na<span class="sup">+</span></span></div>
<div class="ln k-tbl" id="l18" style="left:275.38px;top:548.90px;"><span class="bm"></span><span class="w">8,5</span></div>
<div class="ln k-tbl" id="l19" style="left:314.70px;top:548.90px;transform:scaleX(0.9815);"><span class="bm"></span><span class="w">Chlorures Cℓ<span class="sup">–</span></span></div>
<div class="ln k-tbl" id="l20" style="left:174.30px;top:564.20px;transform:scaleX(0.9656);"><span class="bm"></span><span class="w">Potassium K<span class="sup">+</span></span></div>
<div class="ln k-tbl" id="l21" style="left:285.88px;top:564.20px;"><span class="bm"></span><span class="w">1</span></div>
<div class="ln k-tbl" id="l22" style="left:314.70px;top:564.20px;transform:scaleX(0.9085);"><span class="bm"></span><span class="w">Nitrates NO<span class="sub">3</span><span class="sup">–</span></span></div>
<div class="ln k-tbl" id="l23" style="left:174.30px;top:578.90px;transform:scaleX(0.9391);"><span class="bm"></span><span class="w">Silice SiO<span class="sub">2</span></span></div>
<div class="ln k-tbl" id="l24" style="left:278.88px;top:578.90px;"><span class="bm"></span><span class="w">16</span></div>
<div class="ln k-tbl" id="l25" style="left:193.70px;top:594.70px;transform:scaleX(0.9703);"><span class="bm"></span><span class="w">Teneur totale en sels minéraux à 100 °C :</span></div>
<div class="ln k-tbl" id="l26" style="left:243.80px;top:609.60px;transform:scaleX(0.9778);"><span class="bm"></span><span class="w">309 mg·L<span class="sup">–1</span> – pH = 7,2</span></div>
<div class="ln k-head" id="l27" style="left:119.00px;top:665.20px;transform:scaleX(1.0165);"><span class="bm"></span><span class="w">Identification d’huiles essentielles</span></div>
<div class="ln k-skill" id="l28" style="left:100.00px;top:696.50px;transform:scaleX(1.0509);"><span class="bm"></span><span class="w">Analyser, réaliser</span></div>
<div class="ln k-body" id="l29" style="left:80.00px;top:722.40px;word-spacing:-0.638px;"><span class="bm"></span><span class="w">Retrouver l’huile essentielle contenue dans chaque éprou-</span></div>
<div class="ln k-body" id="l30" style="left:80.00px;top:747.30px;transform:scaleX(1.0272);"><span class="bm"></span><span class="w">vette.</span></div>
<div class="ln k-th" id="l31" style="left:89.40px;top:778.40px;transform:scaleX(1.0076);"><span class="bm"></span><span class="w">Huile essentielle</span></div>
<div class="ln k-th" id="l32" style="left:89.40px;top:805.50px;transform:scaleX(0.9492);"><span class="bm"></span><span class="w">Masse volumique en g · mL<span class="sup">–1</span></span></div>
<div class="ln k-th" id="l33" style="left:310.73px;top:778.40px;"><span class="bm"></span><span class="w">Basilic</span></div>
<div class="ln k-th" id="l34" style="left:319.98px;top:805.50px;"><span class="bm"></span><span class="w">0,95</span></div>
<div class="ln k-th" id="l35" style="left:384.91px;top:778.40px;"><span class="bm"></span><span class="w">Menthol</span></div>
<div class="ln k-th" id="l36" style="left:398.58px;top:805.50px;"><span class="bm"></span><span class="w">0,90</span></div>
<div class="ln k-th" id="l37" style="left:461.68px;top:778.40px;"><span class="bm"></span><span class="w">Lavande</span></div>
<div class="ln k-th" id="l38" style="left:476.98px;top:805.50px;"><span class="bm"></span><span class="w">0,88</span></div>
<div class="ln k-lab" id="l39" style="left:119.20px;top:832.60px;"><span class="bm"></span><span class="w">1</span></div>
<div class="ln k-lab" id="l40" style="left:269.80px;top:832.60px;"><span class="bm"></span><span class="w">2</span></div>
<div class="ln k-lab" id="l41" style="left:419.00px;top:832.60px;"><span class="bm"></span><span class="w">3</span></div>
<div class="ln k-lab" id="l42" style="left:176.80px;top:962.20px;transform:scaleX(0.8926);"><span class="bm"></span><span class="w">8,5 mL</span></div>
<div class="ln k-lab" id="l43" style="left:328.00px;top:928.00px;transform:scaleX(0.9735);"><span class="bm"></span><span class="w">17 mL</span></div>
<div class="ln k-lab" id="l44" style="left:478.70px;top:901.60px;transform:scaleX(0.9164);"><span class="bm"></span><span class="w">24 mL</span></div>
<div class="ln k-body" id="l45" style="left:80.00px;top:1078.00px;word-spacing:1.130px;"><span class="bm"></span><span class="w">Les résultats ont été obtenus après avoir effectué la tare</span></div>
<div class="ln k-body" id="l46" style="left:80.00px;top:1101.60px;transform:scaleX(0.9960);"><span class="bm"></span><span class="w">sur les éprouvettes vides.</span></div>
<div class="ln k-head" id="l47" style="left:119.00px;top:1146.00px;transform:scaleX(0.9978);"><span class="bm"></span><span class="w">Une recette de cocktail</span></div>
<div class="ln k-skill" id="l48" style="left:100.00px;top:1175.50px;transform:scaleX(1.0243);"><span class="bm"></span><span class="w">Réaliser</span></div>
<div class="ln k-body" id="l49" style="left:80.00px;top:1206.00px;transform:scaleX(1.0091);"><span class="bm"></span><span class="w">Voici la recette du cocktail Bora Bora :</span></div>
<div class="ln k-body" id="l50" style="left:80.00px;top:1232.70px;word-spacing:-1.500px;transform:scaleX(0.9681);"><span class="bm"></span><span class="w"><span class="dot">●</span> Frapper au shaker : 5/10<span class="sup">e</span> de jus d’ananas,</span></div>
<div class="ln k-body" id="l51" style="left:80.00px;top:1256.20px;word-spacing:-1.085px;"><span class="bm"></span><span class="w">3/10<span class="sup">e</span> de jus de fruit de la passion, 1/10<span class="sup">e</span> de</span></div>
<div class="ln k-body" id="l52" style="left:80.00px;top:1280.20px;word-spacing:-1.500px;transform:scaleX(0.9909);"><span class="bm"></span><span class="w">sirop de grenadine et 1/10<span class="sup">e</span> de jus de citron.</span></div>
<div class="ln k-body" id="l53" style="left:80.00px;top:1306.90px;word-spacing:5.120px;"><span class="bm"></span><span class="w"><span class="dot">●</span> Verser dans un verre contenant des</span></div>
<div class="ln k-body" id="l54" style="left:80.00px;top:1330.40px;word-spacing:7.294px;"><span class="bm"></span><span class="w">glaçons et décorer avec une rondelle</span></div>
<div class="ln k-body" id="l55" style="left:80.00px;top:1354.00px;transform:scaleX(0.9867);"><span class="bm"></span><span class="w">d’orange.</span></div>
<div class="ln k-body" id="l56" style="left:80.00px;top:1380.70px;word-spacing:2.587px;"><span class="bm"></span><span class="w"><span class="bl"></span> Calculer le volume de chaque boisson à utiliser pour</span></div>
<div class="ln k-body" id="l57" style="left:80.00px;top:1405.10px;transform:scaleX(1.0013);"><span class="bm"></span><span class="w">réaliser 2,5 L de cocktail.</span></div>
<div class="ln k-head" id="l58" style="left:632.70px;top:164.70px;transform:scaleX(0.9693);"><span class="bm"></span><span class="w">Un arôme dans une boisson</span></div>
<div class="ln k-skill" id="l59" style="left:614.50px;top:195.30px;transform:scaleX(1.0482);"><span class="bm"></span><span class="w">Valider, communiquer</span></div>
<div class="ln k-body" id="l60" style="left:594.30px;top:223.20px;word-spacing:11.225px;"><span class="bm"></span><span class="w">Le benzaldéhyde est une</span></div>
<div class="ln k-body" id="l61" style="left:594.30px;top:247.00px;word-spacing:0.168px;"><span class="bm"></span><span class="w">molécule à l’odeur caractéris-</span></div>
<div class="ln k-body" id="l62" style="left:594.30px;top:271.00px;word-spacing:-1.500px;transform:scaleX(0.9656);"><span class="bm"></span><span class="w">tique d’amande amère. Sa syn-</span></div>
<div class="ln k-body" id="l63" style="left:594.30px;top:294.30px;word-spacing:5.043px;"><span class="bm"></span><span class="w">thèse étant moins coûteuse</span></div>
<div class="ln k-body" id="l64" style="left:594.30px;top:318.10px;word-spacing:14.900px;"><span class="bm"></span><span class="w">que l’extraction d’amande</span></div>
<div class="ln k-body" id="l65" style="left:594.30px;top:342.10px;word-spacing:4.524px;"><span class="bm"></span><span class="w">amère, il est souvent utilisé</span></div>
<div class="ln k-body" id="l66" style="left:594.30px;top:365.90px;word-spacing:1.142px;"><span class="bm"></span><span class="w">pour parfumer les pâtisseries</span></div>
<div class="ln k-body" id="l67" style="left:594.30px;top:389.90px;word-spacing:0.819px;"><span class="bm"></span><span class="w">et certaines boissons comme</span></div>
<div class="ln k-body" id="l68" style="left:594.30px;top:413.90px;transform:scaleX(0.9963);"><span class="bm"></span><span class="w">le sirop d’orgeat.</span></div>
<div class="ln k-body" id="l69" style="left:594.30px;top:439.90px;word-spacing:4.040px;"><span class="bm"></span><span class="w">On veut vérifier la composi-</span></div>
<div class="ln k-body" id="l70" style="left:594.30px;top:463.90px;word-spacing:3.730px;"><span class="bm"></span><span class="w">tion d’une essence naturelle</span></div>
<div class="ln k-body" id="l71" style="left:594.30px;top:487.70px;word-spacing:10.256px;"><span class="bm"></span><span class="w">d’amande amère et d’une</span></div>
<div class="ln k-body" id="l72" style="left:594.30px;top:511.70px;word-spacing:-0.728px;"><span class="bm"></span><span class="w">boisson à l’aide d’une chromatographie sur couche mince.</span></div>
<div class="ln k-body" id="l73" style="left:594.30px;top:537.30px;word-spacing:2.803px;"><span class="bm"></span><span class="w">Après avoir préparé la plaque, on y dépose des micro-</span></div>
<div class="ln k-body" id="l74" style="left:594.30px;top:562.00px;transform:scaleX(1.0049);"><span class="bm"></span><span class="w">gouttes de :</span></div>
<div class="ln k-body" id="l75" style="left:594.30px;top:590.70px;transform:scaleX(1.0083);"><span class="bm"></span><span class="w"><span class="dot">●</span> Benzaldéhyde commercial (B)</span></div>
<div class="ln k-body" id="l76" style="left:594.30px;top:617.10px;transform:scaleX(0.9991);"><span class="bm"></span><span class="w"><span class="dot">●</span> Essence d’amande amère naturelle (AA)</span></div>
<div class="ln k-body" id="l77" style="left:594.30px;top:644.00px;transform:scaleX(1.0087);"><span class="bm"></span><span class="w"><span class="dot">●</span> Extrait de la boisson étudiée (Boisson)</span></div>
<div class="ln k-body" id="l78" style="left:594.30px;top:673.00px;word-spacing:4.301px;"><span class="bm"></span><span class="w"><b class="num">1.</b> D’après les résultats obtenus après révélation sous</span></div>
<div class="ln k-body" id="l79" style="left:594.30px;top:697.30px;word-spacing:4.261px;"><span class="bm"></span><span class="w">U.V., indiquer si l’extrait naturel d’amande amère (AA)</span></div>
<div class="ln k-body" id="l80" style="left:594.30px;top:721.60px;transform:scaleX(1.0227);"><span class="bm"></span><span class="w">est constitué uniquement de benzaldéhyde (B).</span></div>
<div class="ln k-body" id="l81" style="left:594.30px;top:747.70px;word-spacing:2.326px;"><span class="bm"></span><span class="w"><b class="num">2.</b> Dire si la boisson étudiée est parfumée à l’arôme de</span></div>
<div class="ln k-body" id="l82" style="left:594.30px;top:772.00px;transform:scaleX(0.9972);"><span class="bm"></span><span class="w">synthèse ou à l’extrait naturel.</span></div>
<div class="ln k-body" id="l83" style="left:594.30px;top:797.60px;word-spacing:2.343px;"><span class="bm"></span><span class="w"><b class="num">3.</b> Indiquer si elle contient d’autres substances révélées</span></div>
<div class="ln k-body" id="l84" style="left:594.30px;top:822.30px;transform:scaleX(1.0206);"><span class="bm"></span><span class="w">par le chromatogramme.</span></div>
<div class="ln k-head" id="l85" style="left:704.60px;top:865.00px;transform:scaleX(1.0007);"><span class="bm"></span><span class="w">Caractéristiques physiques</span></div>
<div class="ln k-head" id="l86" style="left:595.70px;top:887.00px;transform:scaleX(0.9523);"><span class="bm"></span><span class="w">du cyclohexane</span></div>
<div class="ln k-skill" id="l87" style="left:614.00px;top:918.00px;transform:scaleX(1.0293);"><span class="bm"></span><span class="w">Réaliser, analyser</span></div>
<div class="ln k-body" id="l88" style="left:594.30px;top:944.80px;word-spacing:1.685px;"><span class="bm"></span><span class="w">Le cyclohexane est un solvant dont la masse volumique</span></div>
<div class="ln k-body" id="l89" style="left:594.30px;top:967.40px;transform:scaleX(0.9832);"><span class="bm"></span><span class="w">vaut 780 g·L<span class="sup">–1</span>.</span></div>
<div class="ln k-body" id="l90" style="left:594.30px;top:994.70px;word-spacing:-1.500px;transform:scaleX(0.9888);"><span class="bm"></span><span class="w"><b class="num">1.</b> Calculer la masse d’un volume de 15 mL de cyclohexane.</span></div>
<div class="ln k-body" id="l91" style="left:594.30px;top:1020.30px;word-spacing:2.783px;"><span class="bm"></span><span class="w"><b class="num">2.</b> L’eau et le cyclohexane n’étant pas miscibles, déter-</span></div>
<div class="ln k-body" id="l92" style="left:594.30px;top:1043.80px;word-spacing:0.093px;"><span class="bm"></span><span class="w">miner le liquide surnageant quand ces deux solvants sont</span></div>
<div class="ln k-body" id="l93" style="left:594.30px;top:1068.50px;transform:scaleX(0.9590);"><span class="bm"></span><span class="w">mélangés dans un tube à essais.</span></div>
<div class="ln k-head" id="l94" style="left:679.00px;top:1119.30px;transform:scaleX(0.9966);"><span class="bm"></span><span class="w">Étude d’un mélange eau-alcool</span></div>
<div class="ln k-skill" id="l95" style="left:614.00px;top:1150.00px;transform:scaleX(1.0440);"><span class="bm"></span><span class="w">Analyser, communiquer</span></div>
<div class="ln k-body" id="l96" style="left:594.30px;top:1177.70px;word-spacing:-1.097px;"><span class="bm"></span><span class="w">On mélange de l’eau et de l’alcool, après agitation le milieu</span></div>
<div class="ln k-body" id="l97" style="left:594.30px;top:1201.20px;transform:scaleX(0.9838);"><span class="bm"></span><span class="w">ne présente aucune surface de séparation.</span></div>
<div class="ln k-body" id="l98" style="left:594.30px;top:1228.00px;transform:scaleX(1.0026);"><span class="bm"></span><span class="w"><b class="num">1.</b> Donner la nature du mélange ainsi constitué.</span></div>
<div class="ln k-body" id="l99" style="left:594.30px;top:1253.20px;word-spacing:0.191px;"><span class="bm"></span><span class="w"><b class="num">2.</b> On se propose de séparer les constituants du mélange</span></div>
<div class="ln k-body" id="l100" style="left:594.30px;top:1276.70px;word-spacing:0.878px;"><span class="bm"></span><span class="w">précédent. Théo dit <i>« Je propose la méthode de filtration</i></span></div>
<div class="ln k-body" id="l101" style="left:594.30px;top:1301.40px;word-spacing:1.941px;"><span class="bm"></span><span class="w"><i>car elle met peu de temps »</i>. Amina dit : <i>« Je crois que</i></span></div>
<div class="ln k-body" id="l102" style="left:594.30px;top:1324.90px;transform:scaleX(0.9868);"><span class="bm"></span><span class="w"><i>c’est la distillation qui sera mieux adaptée »</i>.</span></div>
<div class="ln k-body" id="l103" style="left:594.30px;top:1351.40px;transform:scaleX(1.0049);"><span class="bm"></span><span class="w"><b class="num">a.</b> Dire quelle est la proposition exacte.</span></div>
<div class="ln k-body" id="l104" style="left:594.30px;top:1377.40px;transform:scaleX(1.0075);"><span class="bm"></span><span class="w"><b class="num">b.</b> Indiquer quel sera le liquide recueilli en premier.</span></div>
<div class="ln k-body" id="l105" style="left:594.30px;top:1405.10px;transform:scaleX(1.0015);"><span class="bm"></span><span class="w"><b>Donnée.</b> t°<span class="sub2">ébullition</span> de l’alcool : 78 °C.</span></div>
</body></html>
